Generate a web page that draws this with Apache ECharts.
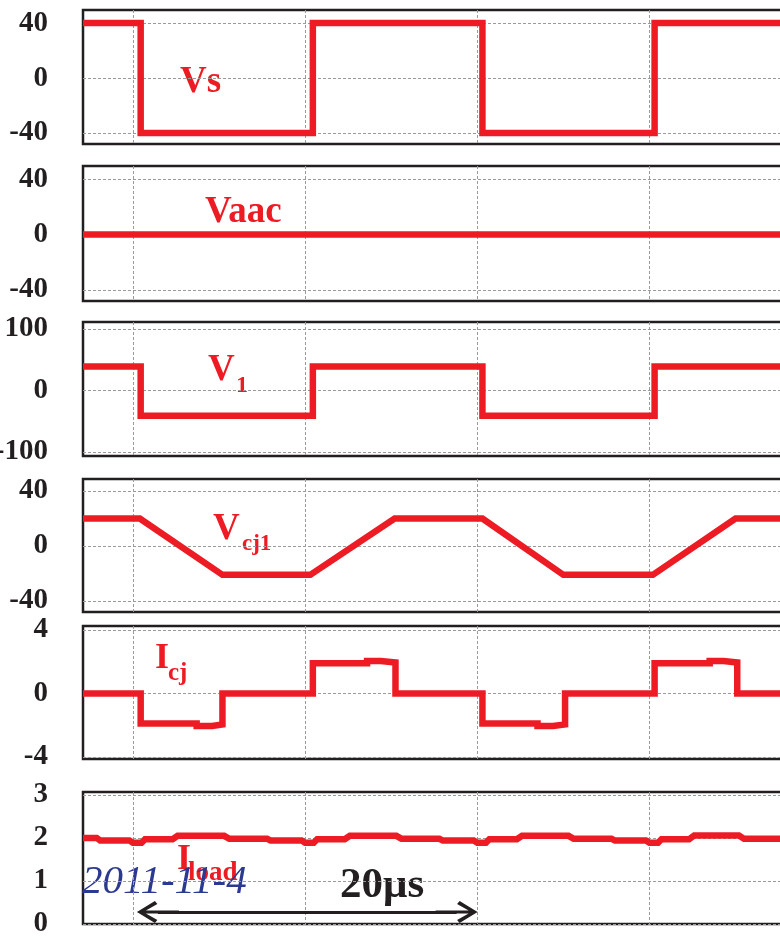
<!DOCTYPE html>
<html>
<head>
<meta charset="utf-8">
<script src="https://cdn.jsdelivr.net/npm/echarts@6/dist/echarts.min.js"></script>
<style>
  html, body { margin: 0; padding: 0; background: #fff; }
  #chart { width: 780px; height: 937px; }
</style>
</head>
<body>
<div id="chart"></div>
<script>
// time axis in microseconds, 0 = first dotted grid line
const gridTimes = [0, 10, 20, 30]

// Vs
const vsTime = [-2.9, 0.45, 0.45, 10.45, 10.45, 20.3, 20.3, 30.3, 30.3, 37.7]
const vsValue = [40, 40, -40, -40, 40, 40, -40, -40, 40, 40]
// Vaac
const vaacTime = [-2.9, 37.7]
const vaacValue = [0, 0]
// V1
const v1Time = [-2.9, 0.45, 0.45, 10.45, 10.45, 20.3, 20.3, 30.3, 30.3, 37.7]
const v1Value = [39, 39, -41, -41, 39, 39, -41, -41, 39, 39]
// Vcj1
const vcjTime = [-2.9, 0.4, 5.2, 10.3, 15.2, 20.3, 25.0, 30.2, 35.0, 37.7]
const vcjValue = [20, 20, -21, -21, 20, 20, -21, -21, 20, 20]
// Icj
const icjTime = [-2.9, 0.45, 0.45, 3.7, 3.7, 4.6, 4.6, 5.2, 5.2, 10.45, 10.45, 13.6, 13.6, 14.4, 14.4, 15.25, 15.25,
  20.3, 20.3, 23.5, 23.5, 24.4, 24.4, 25.1, 25.1, 30.3, 30.3, 33.5, 33.5, 34.3, 34.3, 35.1, 35.1, 37.7]
const icjValue = [0, 0, -1.9, -1.9, -2.05, -2.05, -1.95, -1.95, 0, 0, 1.9, 1.9, 2.05, 2.05, 1.95, 1.95, 0,
  0, -1.9, -1.9, -2.05, -2.05, -1.95, -1.95, 0, 0, 1.9, 1.9, 2.05, 2.05, 1.95, 1.95, 0, 0]
// Iload
const iloadTime = [-2.9, -2.1, -1.9, -0.2, 0, 0.5, 0.7, 2.3, 2.6, 5.3, 5.6, 7.8, 8.0, 9.8, 10.0, 10.5, 10.7, 12.3, 12.6,
  15.3, 15.6, 17.8, 18.0, 19.8, 20.0, 20.5, 20.7, 22.3, 22.6, 25.3, 25.6, 27.8, 28.0, 29.8, 30.0, 30.5, 30.7,
  32.3, 32.6, 35.2, 35.5, 37.7]
const iloadValue = [2.0, 2.0, 1.94, 1.94, 1.89, 1.89, 1.97, 1.97, 2.05, 2.05, 1.98, 1.98, 1.94, 1.94, 1.89, 1.89, 1.97, 1.97, 2.05,
  2.05, 1.98, 1.98, 1.94, 1.94, 1.89, 1.89, 1.97, 1.97, 2.05, 2.05, 1.98, 1.98, 1.94, 1.94, 1.89, 1.89, 1.97,
  1.97, 2.06, 2.06, 1.98, 1.98]

// y tick labels per panel
const vsTicks = [40, 0, -40]
const vaacTicks = [40, 0, -40]
const v1Ticks = [100, 0, -100]
const vcjTicks = [40, 0, -40]
const icjTicks = [4, 0, -4]
const iloadTicks = [3, 2, 1, 0]

// 20us scale arrow (time span, level on the Iload axis)
const arrowSpan = [1.45, 18.8]
const arrowLevel = 0.28

const red = '#ed1c24'
const ink = '#231f20'
const serif = '"Liberation Serif", "Times New Roman", serif'

const panels = [
  { time: vsTime, value: vsValue, ticks: vsTicks, min: -48, max: 49.5, top: 10, height: 134 },
  { time: vaacTime, value: vaacValue, ticks: vaacTicks, min: -48, max: 49.5, top: 166, height: 135 },
  { time: v1Time, value: v1Value, ticks: v1Ticks, min: -106.5, max: 111.4, top: 322, height: 134 },
  { time: vcjTime, value: vcjValue, ticks: vcjTicks, min: -48, max: 48.7, top: 479, height: 133 },
  { time: icjTime, value: icjValue, ticks: icjTicks, min: -4.13, max: 4.25, top: 626, height: 133 },
  { time: iloadTime, value: iloadValue, ticks: iloadTicks, min: 0, max: 3.07, top: 792, height: 132 }
]

const splitLine = { show: true, lineStyle: { color: '#9a9a9a', width: 1, type: [3, 2] } }
const arrowHead = 'path://M11,0 L22,18 L19,20.5 L12.5,9 L12.5,42 L9.5,42 L9.5,9 L3,20.5 L0,18 Z'

const chart = echarts.init(document.getElementById('chart'), null, { renderer: 'canvas' })

const option = {
  backgroundColor: '#fff',
  animation: false,
  grid: panels.map(p => ({
    left: 83, width: 699, top: p.top, height: p.height,
    outerBoundsMode: 'none', containLabel: false,
    show: true, borderColor: ink, borderWidth: 2.5, backgroundColor: 'transparent'
  })),
  xAxis: panels.map((p, i) => ({
    type: 'value', gridIndex: i, min: -2.9, max: 37.7,
    axisLine: { show: false },
    axisTick: { show: false, customValues: gridTimes },
    axisLabel: { show: false, customValues: gridTimes },
    splitLine: splitLine
  })),
  yAxis: panels.map((p, i) => ({
    type: 'value', gridIndex: i, min: p.min, max: p.max,
    axisLine: { show: false },
    axisTick: { show: false, customValues: p.ticks },
    axisLabel: {
      customValues: p.ticks, margin: 35, color: ink, padding: [6, 0, 0, 0],
      fontFamily: serif, fontWeight: 'bold', fontSize: 29
    },
    splitLine: splitLine
  })),
  series: panels.map((p, i) => {
    const s = {
      type: 'line', xAxisIndex: i, yAxisIndex: i,
      data: p.time.map((t, k) => [t, p.value[k]]),
      showSymbol: false, silent: true,
      lineStyle: { color: red, width: 6.5, join: 'miter', cap: 'butt' }
    }
    if (i === 5) {
      s.markLine = {
        silent: true, animation: false,
        symbol: [arrowHead, arrowHead],
        symbolSize: [22, 42],
        itemStyle: { color: ink },
        lineStyle: { color: ink, width: 3, type: 'solid' },
        label: { show: false },
        data: [[{ coord: [arrowSpan[0], arrowLevel] }, { coord: [arrowSpan[1], arrowLevel] }]]
      }
    }
    return s
  }),
  graphic: [
    { type: 'text', left: 180, top: 63.5, style: { text: 'Vs', font: 'bold 37px ' + serif, fill: red } },
    { type: 'text', left: 205, top: 193.5, style: { text: 'Vaac', font: 'bold 37px ' + serif, fill: red } },
    { type: 'text', left: 208, top: 351.5, style: { text: 'V', font: 'bold 37px ' + serif, fill: red } },
    { type: 'text', left: 236, top: 373.5, style: { text: '1', font: 'bold 24px ' + serif, fill: red } },
    { type: 'text', left: 213, top: 510.5, style: { text: 'V', font: 'bold 37px ' + serif, fill: red } },
    { type: 'text', left: 242, top: 533, style: { text: 'cj1', font: 'bold 23px ' + serif, fill: red } },
    { type: 'text', left: 155, top: 640.5, style: { text: 'I', font: 'bold 36px ' + serif, fill: red } },
    { type: 'text', left: 168, top: 661.5, style: { text: 'cj', font: 'bold 25px ' + serif, fill: red } },
    { type: 'text', left: 177, top: 841.5, style: { text: 'I', font: 'bold 36px ' + serif, fill: red } },
    { type: 'text', left: 188, top: 860, style: { text: 'load', font: 'bold 27px ' + serif, fill: red } },
    { type: 'text', left: 82, top: 862, style: { text: '2011-11-4', font: 'italic 41px ' + serif, fill: '#2b3990' } },
    { type: 'text', left: 340, top: 864, style: { text: '20μs', font: 'bold 43px ' + serif, fill: ink } }
  ]
}

chart.setOption(option)
</script>
</body>
</html>
